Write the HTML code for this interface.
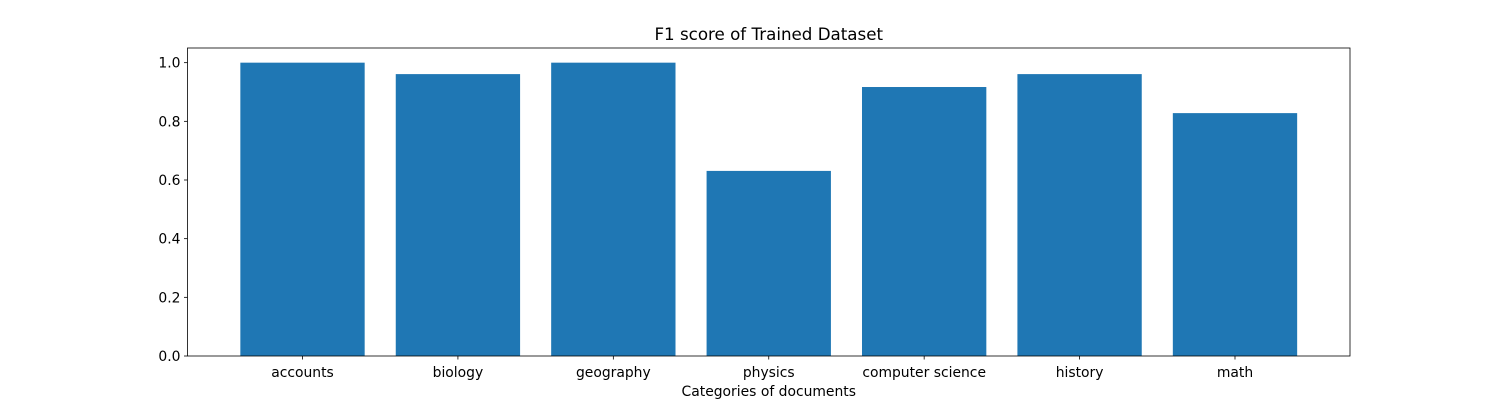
<!DOCTYPE html>
<html><head><meta charset="utf-8"><style>
body{margin:0;background:#fff;}
svg{display:block;font-family:"DejaVu Sans","Liberation Sans",sans-serif;}
</style></head><body>
<svg id="chart" width="1500" height="400" viewBox="0 0 1500 400">
<rect width="1500" height="400" fill="#fff"/>
<g id="bars"></g><g id="axes"></g>
</svg>
<script>
const categories = ["accounts","biology","geography","physics","computer science","history","math"];
const values = [1.0, 0.961, 1.0, 0.631, 0.917, 0.961, 0.828];
const yTicks = [0.0, 0.2, 0.4, 0.6, 0.8, 1.0];
const yTickLabels = ["0.0","0.2","0.4","0.6","0.8","1.0"];

const L=187.5,R=1350,T=48,B=356;
const ymax=Math.max(...values)*1.05;
const n=categories.length;
const xmin=-0.4-0.05*(n-1+0.8), xmax=n-1+0.4+0.05*(n-1+0.8);
const xs=v=>L+(v-xmin)/(xmax-xmin)*(R-L);
const ys=v=>B-v/ymax*(B-T);
const NS="http://www.w3.org/2000/svg";
function mk(tag,attrs,parent,text){const e=document.createElementNS(NS,tag);for(const k in attrs)e.setAttribute(k,attrs[k]);if(text!==undefined)e.textContent=text;parent.appendChild(e);return e;}
const bars=document.getElementById('bars'),axes=document.getElementById('axes');
categories.forEach((c,i)=>{
  const x0=xs(i-0.4),x1=xs(i+0.4);
  const r=mk('rect',{x:x0,y:ys(values[i]),width:x1-x0,height:B-ys(values[i]),fill:'#1f77b4'},bars);
  
  
  mk('line',{x1:xs(i),x2:xs(i),y1:B,y2:B+3.5,stroke:'#000','stroke-width':0.8},axes);
  const t=mk('text',{x:xs(i),y:B+21,'text-anchor':'middle','font-size':13.9,fill:'#000'},axes,c);
  
  
});
yTicks.forEach((v,i)=>{
  mk('line',{x1:L-3.5,x2:L,y1:ys(v),y2:ys(v),stroke:'#000','stroke-width':0.8},axes);
  const t=mk('text',{x:L-7,y:ys(v)+5,'text-anchor':'end','font-size':13.9,fill:'#000'},axes,yTickLabels[i]);
  
  
});
const f=mk('rect',{x:L,y:T,width:R-L,height:B-T,fill:'none',stroke:'#000','stroke-width':0.8},axes);


const ti=mk('text',{x:(L+R)/2,y:T-8,'text-anchor':'middle','font-size':16.7,fill:'#000'},axes,'F1 score of Trained Dataset');


const xl=mk('text',{x:(L+R)/2,y:B+40,'text-anchor':'middle','font-size':13.9,fill:'#000'},axes,'Categories of documents');


</script>
</body></html>
